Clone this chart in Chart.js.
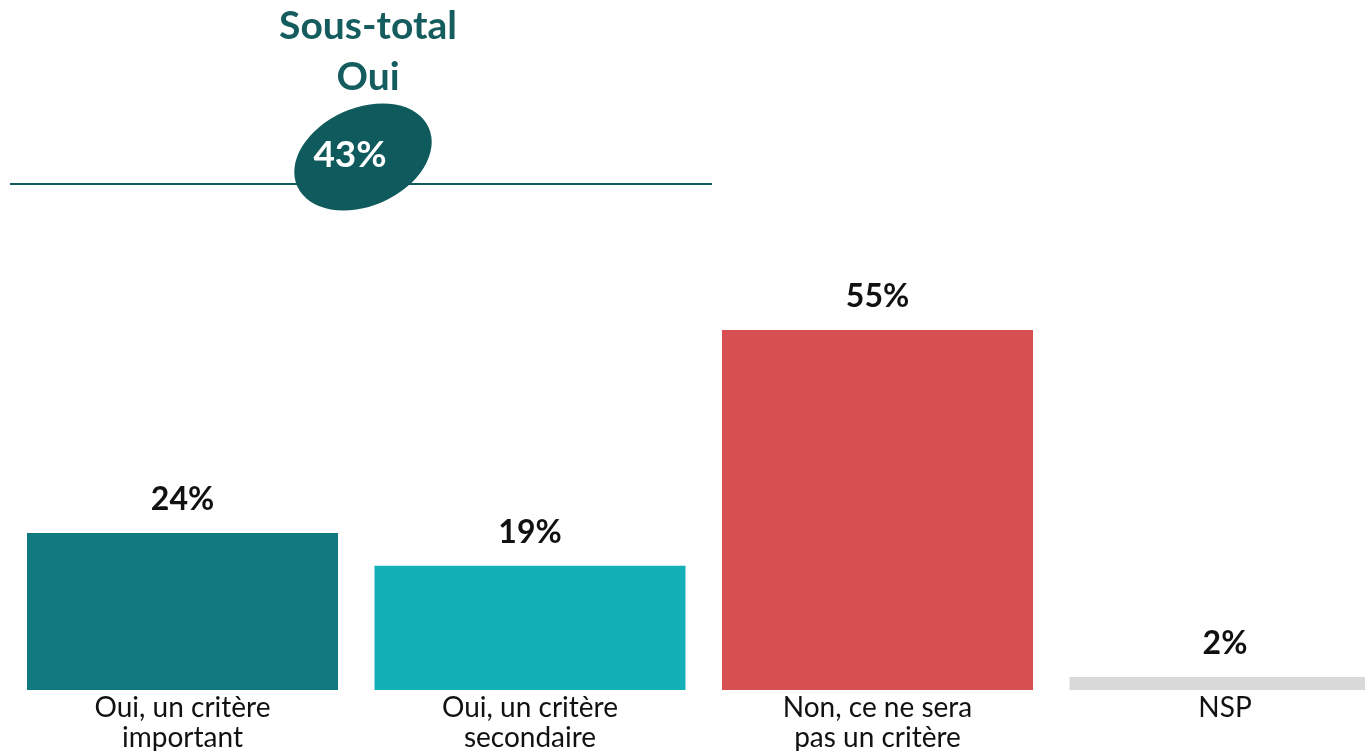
<!DOCTYPE html>
<html>
<head>
<meta charset="utf-8">
<script src="https://cdn.jsdelivr.net/npm/chart.js@4.4.0/dist/chart.umd.min.js"></script>
<style>
html,body{margin:0;padding:0;background:#fff;overflow:hidden;width:1365px;height:751px;}
#wrap{position:absolute;left:0;top:0;width:1400px;height:751px;}
</style>
</head>
<body>
<div id="wrap"><canvas id="c" width="1400" height="751"></canvas></div>
<script>
const categories = [
  ["Oui, un critère", "important"],
  ["Oui, un critère", "secondaire"],
  ["Non, ce ne sera", "pas un critère"],
  ["NSP"]
];
const values = [24, 19, 55, 2];
const valueLabels = ["24%", "19%", "55%", "2%"];
const barColors = ["#107a80", "#14b0b7", "#d84f51", "#d9d9d9"];
const subtotalTitle = ["Sous-total", "Oui"];
const subtotalValue = "43%";

const FONT = "Lato, 'Open Sans', sans-serif";

const labelsPlugin = {
  id: 'valueLabels',
  afterDatasetsDraw(chart) {
    const ctx = chart.ctx;
    const meta = chart.getDatasetMeta(0);
    ctx.save();
    ctx.font = "bold 32px " + FONT;
    ctx.fillStyle = "#111";
    ctx.textAlign = "center";
    ctx.textBaseline = "middle";
    meta.data.forEach((bar, i) => {
      ctx.fillText(valueLabels[i], bar.x, bar.y - 33);
    });
    ctx.restore();
  }
};

const subtotalPlugin = {
  id: 'subtotal',
  afterDraw(chart) {
    const ctx = chart.ctx;
    ctx.save();
    ctx.strokeStyle = "#0e5a5c";
    ctx.lineWidth = 2;
    ctx.beginPath();
    ctx.moveTo(10, 184);
    ctx.lineTo(712, 184);
    ctx.stroke();
    ctx.fillStyle = "#0e5a5c";
    ctx.beginPath();
    ctx.ellipse(363, 157, 72, 49, -0.42, 0, Math.PI * 2);
    ctx.fill();
    ctx.fillStyle = "#ffffff";
    ctx.font = "bold 37px " + FONT;
    ctx.textAlign = "center";
    ctx.textBaseline = "middle";
    ctx.fillText(subtotalValue, 350, 155);
    ctx.fillStyle = "#145c5e";
    ctx.font = "bold 39px " + FONT;
    ctx.fillText(subtotalTitle[0], 368, 26);
    ctx.fillText(subtotalTitle[1], 368, 77);
    ctx.restore();
  }
};

new Chart(document.getElementById('c'), {
  type: 'bar',
  data: {
    labels: categories,
    datasets: [{
      data: values,
      backgroundColor: barColors,
      borderWidth: 0,
      categoryPercentage: 0.895,
      barPercentage: 1.0
    }]
  },
  options: {
    responsive: false,
    animation: false,
    events: [],
    layout: { padding: { left: 8.75, right: 1.25, top: 35.5, bottom: 0 } },
    plugins: { legend: { display: false }, tooltip: { enabled: false } },
    scales: {
      y: { display: false, min: 0, max: 100 },
      x: {
        grid: { display: false },
        border: { display: false },
        ticks: {
          color: "#111",
          padding: -5,
          maxRotation: 0,
          autoSkip: false,
          font: { family: FONT, size: 28, lineHeight: 1.07 }
        },
        afterFit(scale) { scale.height = 61; }
      }
    }
  },
  plugins: [labelsPlugin, subtotalPlugin]
});
</script>
</body>
</html>
